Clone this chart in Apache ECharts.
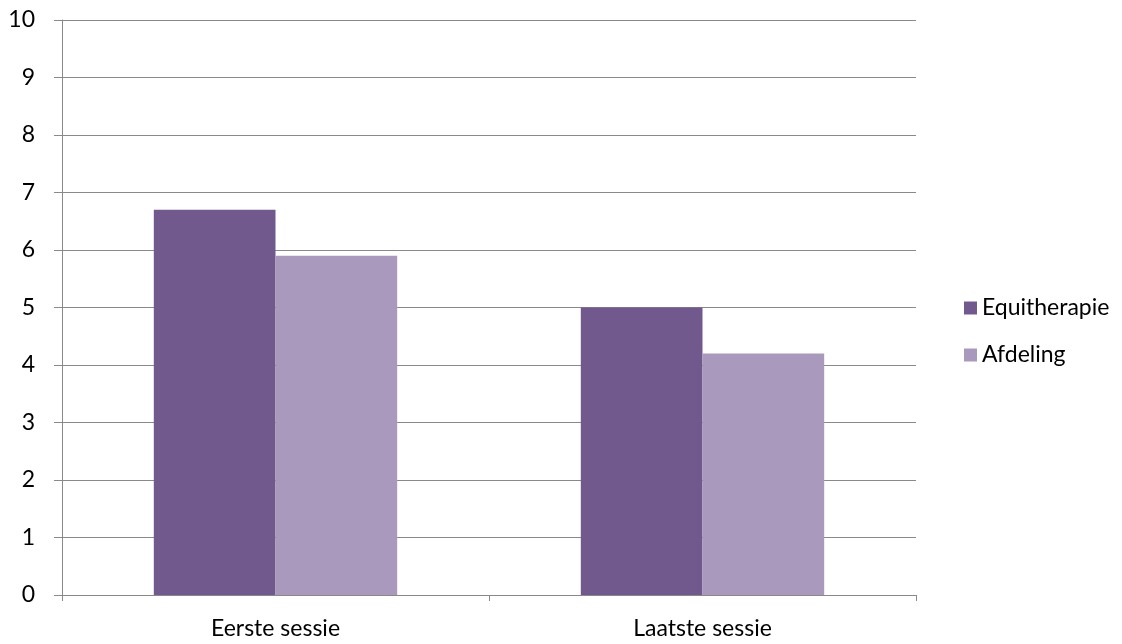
<!DOCTYPE html>
<html>
<head>
<meta charset="utf-8">
<script src="https://cdn.jsdelivr.net/npm/echarts@6/dist/echarts.min.js"></script>
<style>
  html, body { margin: 0; padding: 0; background: #fff; }
  #chart { width: 1122px; height: 644px; }
</style>
</head>
<body>
<div id="chart"></div>
<script>
// Sessions compared, scores per group
const categories = ['Eerste sessie', 'Laatste sessie'];
const equitherapie = [6.7, 5.0];
const afdeling = [5.9, 4.2];
const seriesNames = ['Equitherapie', 'Afdeling'];

const FONT = 'Lato, "Open Sans", sans-serif';
const FONT_SIZE = 23;
const GRID_COLOR = '#898989';

const chart = echarts.init(document.getElementById('chart'), null, { renderer: 'canvas' });
chart.setOption({
  animation: false,
  backgroundColor: '#ffffff',
  grid: { left: 62, right: 206, top: 20, bottom: 49, containLabel: false },
  legend: {
    orient: 'vertical',
    left: 959,
    top: 291,
    itemWidth: 13,
    itemHeight: 13,
    itemGap: 23,
    icon: 'rect',
    textStyle: { fontFamily: FONT, fontSize: FONT_SIZE, lineHeight: 24, color: '#000' },
    data: seriesNames
  },
  xAxis: {
    type: 'category',
    data: categories,
    axisLine: { lineStyle: { color: GRID_COLOR, width: 1 } },
    axisTick: { show: true, length: 6, lineStyle: { color: GRID_COLOR } },
    axisLabel: { fontFamily: FONT, fontSize: FONT_SIZE, color: '#000', margin: 22 }
  },
  yAxis: {
    type: 'value',
    min: 0,
    max: 10,
    interval: 1,
    axisLine: { show: true, lineStyle: { color: GRID_COLOR, width: 1 } },
    axisTick: { show: true, length: 8, lineStyle: { color: GRID_COLOR } },
    splitLine: { show: true, lineStyle: { color: GRID_COLOR, width: 1 } },
    axisLabel: { fontFamily: FONT, fontSize: FONT_SIZE, color: '#000', margin: 27 }
  },
  series: [
    {
      name: seriesNames[0],
      type: 'bar',
      data: equitherapie,
      itemStyle: { color: '#71598E' },
      barGap: '0%',
      barCategoryGap: '43%'
    },
    {
      name: seriesNames[1],
      type: 'bar',
      data: afdeling,
      itemStyle: { color: '#A99ABD' }
    }
  ]
});
</script>
</body>
</html>
